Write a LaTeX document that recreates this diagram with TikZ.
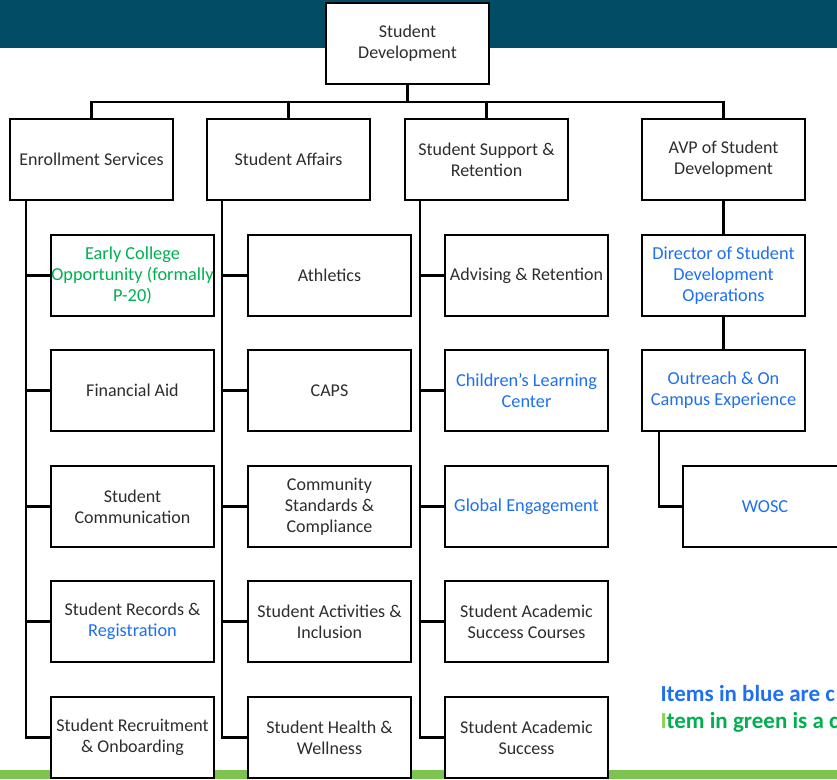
\documentclass[tikz,border=0pt]{standalone}
\usepackage{fontspec}
\setmainfont{Carlito}
\definecolor{banner}{RGB}{2,76,102}
\definecolor{footbar}{RGB}{125,195,80}
\definecolor{chgblue}{RGB}{30,112,240}
\definecolor{chggreen}{RGB}{0,176,80}
\definecolor{lightgreen}{RGB}{146,208,80}
\definecolor{boxtext}{RGB}{45,45,45}
\tikzset{
  unit/.style={draw=black,line width=2.2pt,fill=white,minimum width=163,minimum height=81,
    inner sep=0pt,align=center,font=\fontsize{18}{21}\selectfont,text=boxtext},
  blue/.style={text=chgblue,font=\fontsize{18.3}{21}\selectfont},
  green/.style={text=chggreen,font=\fontsize{18.3}{21}\selectfont},
  link/.style={line width=2.2pt},
  note/.style={anchor=base west,font=\fontsize{23}{27}\selectfont\bfseries}
}
\begin{document}
\begin{tikzpicture}[x=1pt,y=-1pt]
	\useasboundingbox (0,0) rectangle (837,779);
	\clip (0,0) rectangle (837,779);
	\fill [banner] (0,0) rectangle (837,48);
	\fill [footbar] (0,770) rectangle (837,779);

	\node [unit] (top) at (407.5,43.5) {Student\\Development};

	\node [unit] (es) at (91.5,159.5) {Enrollment Services};
	\node [unit] (sa) at (288.5,159.5) {Student Affairs};
	\node [unit] (ssr) at (486.5,159.5) {Student Support \&\\Retention};
	\node [unit] (avp) at (723.5,159.5) {AVP of Student\\Development};

	\node [unit,green] (eco) at (132.5,275.5) {Early College\\Opportunity (formally\\P-20)};
	\node [unit] (fa) at (132.5,390.5) {Financial Aid};
	\node [unit] (sc) at (132.5,506.5) {Student\\Communication};
	\node [unit] (srr) at (132.5,621.5) {Student Records \&\\{\fontsize{18.3}{21}\selectfont\textcolor{chgblue}{Registration}}};
	\node [unit] (sro) at (132.5,737.5) {Student Recruitment\\\& Onboarding};

	\node [unit] (ath) at (329.5,275.5) {Athletics};
	\node [unit] (caps) at (329.5,390.5) {CAPS};
	\node [unit] (csc) at (329.5,506.5) {Community\\Standards \&\\Compliance};
	\node [unit] (sai) at (329.5,621.5) {Student Activities \&\\Inclusion};
	\node [unit] (shw) at (329.5,737.5) {Student Health \&\\Wellness};

	\node [unit] (adv) at (526.5,275.5) {Advising \& Retention};
	\node [unit,blue] (clc) at (526.5,390.5) {Children's Learning\\Center};
	\node [unit,blue] (ge) at (526.5,506.5) {Global Engagement};
	\node [unit] (sasc) at (526.5,621.5) {Student Academic\\Success Courses};
	\node [unit] (sas) at (526.5,737.5) {Student Academic\\Success};

	\node [unit,blue] (dir) at (723.5,275.5) {Director of Student\\Development\\Operations};
	\node [unit,blue] (out) at (723.5,390.5) {Outreach \& On\\Campus Experience};
	\node [unit,blue,minimum width=164] (wosc) at (765,506.5) {WOSC};

	\draw [link] (top.south) -- ++(0,17) -| (es.north);
	\draw [link] (top.south) -- ++(0,17) -| (sa.north);
	\draw [link] (top.south) -- ++(0,17) -| (ssr.north);
	\draw [link] (top.south) -- ++(0,17) -| (avp.north);

	\foreach \c in {eco,fa,sc,srr,sro}
		\draw [link] ([xshift=17]es.south west) |- (\c.west);
	\foreach \c in {ath,caps,csc,sai,shw}
		\draw [link] ([xshift=16]sa.south west) |- (\c.west);
	\foreach \c in {adv,clc,ge,sasc,sas}
		\draw [link] ([xshift=16]ssr.south west) |- (\c.west);

	\draw [link] (avp.south) -- (dir.north);
	\draw [link] (dir.south) -- (out.north);
	\draw [link] ([xshift=18]out.south west) |- (wosc.west);

	\node [note,text=chgblue] (noteblue) at (657,701) {Items in blue are c};
	\node [note] (notegreen) at (657,728) {\textcolor{lightgreen}{I}\textcolor{chggreen}{tem in green is a c}};
\end{tikzpicture}
\end{document}
